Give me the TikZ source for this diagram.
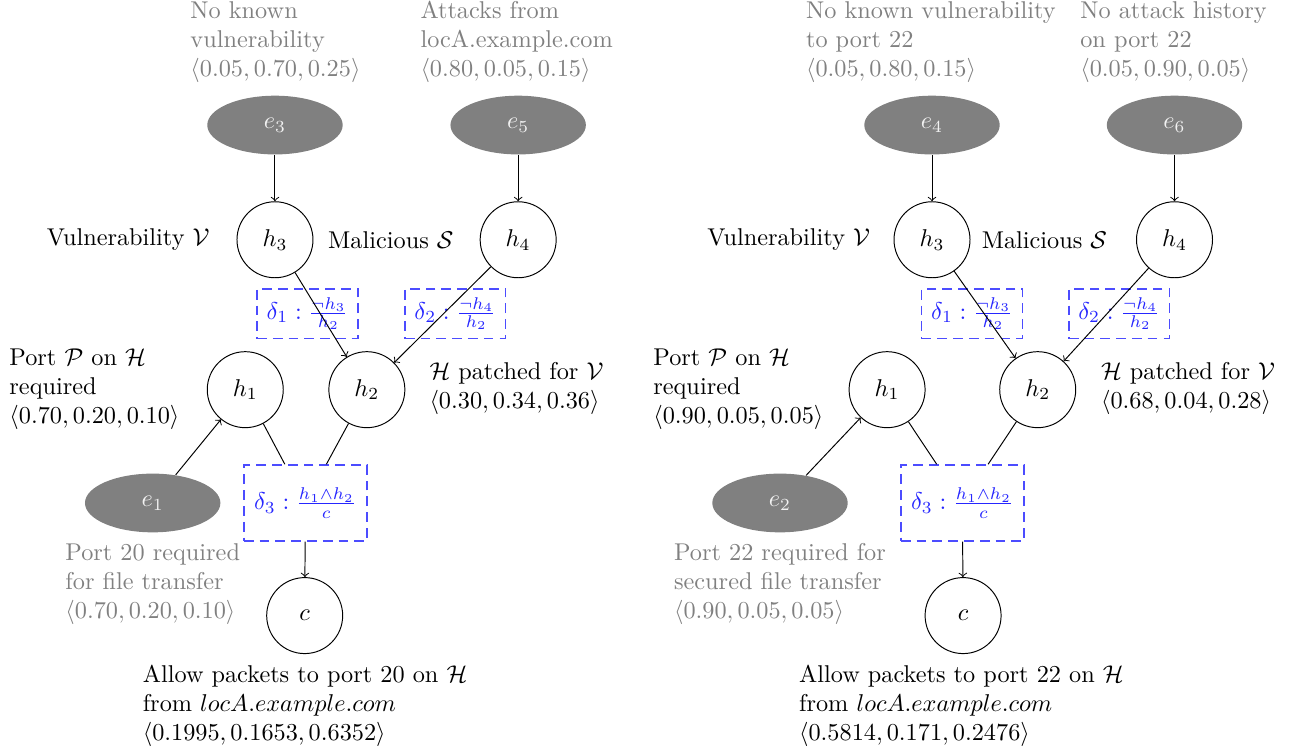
\documentclass[tikz,border=0pt]{standalone}
\usepackage{amsmath}
\usepackage{amssymb}
\usetikzlibrary{shapes.geometric}

\begin{document}
\begin{tikzpicture}[
  evid/.style={ellipse,fill=gray,text=gray!10,minimum width=1.96cm,minimum height=0.85cm},
  hyp/.style={circle,draw,minimum size=1.1cm},
  rulebox/.style={draw=blue!70,semithick,dash pattern=on 4pt off 2.5pt,text=blue!85,minimum width=1.46cm,minimum height=0.72cm},
  info/.style={align=left,inner sep=0pt,anchor=west,text=gray},
  note/.style={align=left,inner sep=0pt,anchor=west}
]
\useasboundingbox (0,0) rectangle (18.86,-10.93);

% Port 20 (left)
\node[evid] (e3) at (3.98,-1.81) {$e_3$};
\node[evid] (e5) at (7.50,-1.81) {$e_5$};
\node[evid] (e1) at (2.21,-7.28) {$e_1$};
\node[hyp] (h3) at (3.98,-3.47) {$h_3$};
\node[hyp] (h4) at (7.50,-3.47) {$h_4$};
\node[hyp] (h1) at (3.55,-5.64) {$h_1$};
\node[hyp] (h2) at (5.31,-5.64) {$h_2$};
\node[hyp] (c) at (4.41,-8.91) {$c$};

\node[rulebox] (d1) at (4.45,-4.54) {$\delta_1 : \frac{\neg h_3}{h_2}$};
\node[rulebox] (d2) at (6.59,-4.54) {$\delta_2 : \frac{\neg h_4}{h_2}$};
\node[rulebox,minimum width=1.78cm,minimum height=1.1cm] (d3) at (4.42,-7.28) {$\delta_3 : \frac{h_1 \wedge h_2}{c}$};

\draw[->] (e3) -- (h3);
\draw[->] (e5) -- (h4);
\draw[->] (e1) -- (h1);
\draw[->] (h3) -- (h2);
\draw[->] (h4) -- (h2);
\draw (h1) -- (d3);
\draw (h2) -- (d3);
\draw[->] (d3) -- (c);

\node[info] (t3) at (2.75,-0.61) {No known\\vulnerability\\$\langle 0.05, 0.70, 0.25\rangle$};
\node[info] (t5) at (6.08,-0.61) {Attacks from\\locA.example.com\\$\langle 0.80, 0.05, 0.15\rangle$};
\node[info] (t1) at (0.94,-8.45) {Port 20 required\\for file transfer\\$\langle 0.70, 0.20, 0.10\rangle$};
\node[note,anchor=east] (l3) at (3.04,-3.47) {Vulnerability $\mathcal{V}$};
\node[note,anchor=east] (l4) at (6.57,-3.47) {Malicious $\mathcal{S}$};
\node[note] (l1) at (0.13,-5.63) {Port $\mathcal{P}$ on $\mathcal{H}$\\required\\$\langle 0.70, 0.20, 0.10\rangle$};
\node[note] (l2) at (6.21,-5.62) {$\mathcal{H}$ patched for $\mathcal{V}$\\$\langle 0.30, 0.34, 0.36\rangle$};
\node[note] (lc) at (2.06,-10.22) {Allow packets to port 20 on $\mathcal{H}$\\from $locA.example.com$\\$\langle 0.1995, 0.1653, 0.6352\rangle$};

% Port 22 (right)
\node[evid] (e4) at (13.49,-1.81) {$e_4$};
\node[evid] (e6) at (17.00,-1.81) {$e_6$};
\node[evid] (e2) at (11.29,-7.28) {$e_2$};
\node[hyp] (g3) at (13.49,-3.47) {$h_3$};
\node[hyp] (g4) at (17.00,-3.47) {$h_4$};
\node[hyp] (g1) at (12.84,-5.64) {$h_1$};
\node[hyp] (g2) at (15.02,-5.64) {$h_2$};
\node[hyp] (cc) at (13.94,-8.91) {$c$};

\node[rulebox] (f1) at (14.07,-4.54) {$\delta_1 : \frac{\neg h_3}{h_2}$};
\node[rulebox] (f2) at (16.20,-4.54) {$\delta_2 : \frac{\neg h_4}{h_2}$};
\node[rulebox,minimum width=1.78cm,minimum height=1.1cm] (f3) at (13.93,-7.28) {$\delta_3 : \frac{h_1 \wedge h_2}{c}$};

\draw[->] (e4) -- (g3);
\draw[->] (e6) -- (g4);
\draw[->] (e2) -- (g1);
\draw[->] (g3) -- (g2);
\draw[->] (g4) -- (g2);
\draw (g1) -- (f3);
\draw (g2) -- (f3);
\draw[->] (f3) -- (cc);

\node[info] (t4) at (11.66,-0.61) {No known vulnerability\\to port 22\\$\langle 0.05, 0.80, 0.15\rangle$};
\node[info] (t6) at (15.63,-0.61) {No attack history\\on port 22\\$\langle 0.05, 0.90, 0.05\rangle$};
\node[info] (t2) at (9.75,-8.45) {Port 22 required for\\secured file transfer\\$\langle 0.90, 0.05, 0.05\rangle$};
\node[note,anchor=east] (m3) at (12.60,-3.47) {Vulnerability $\mathcal{V}$};
\node[note,anchor=east] (m4) at (16.03,-3.47) {Malicious $\mathcal{S}$};
\node[note] (m1) at (9.45,-5.63) {Port $\mathcal{P}$ on $\mathcal{H}$\\required\\$\langle 0.90, 0.05, 0.05\rangle$};
\node[note] (m2) at (15.93,-5.62) {$\mathcal{H}$ patched for $\mathcal{V}$\\$\langle 0.68, 0.04, 0.28\rangle$};
\node[note] (mc) at (11.56,-10.22) {Allow packets to port 22 on $\mathcal{H}$\\from $locA.example.com$\\$\langle 0.5814, 0.171, 0.2476\rangle$};
\end{tikzpicture}
\end{document}
